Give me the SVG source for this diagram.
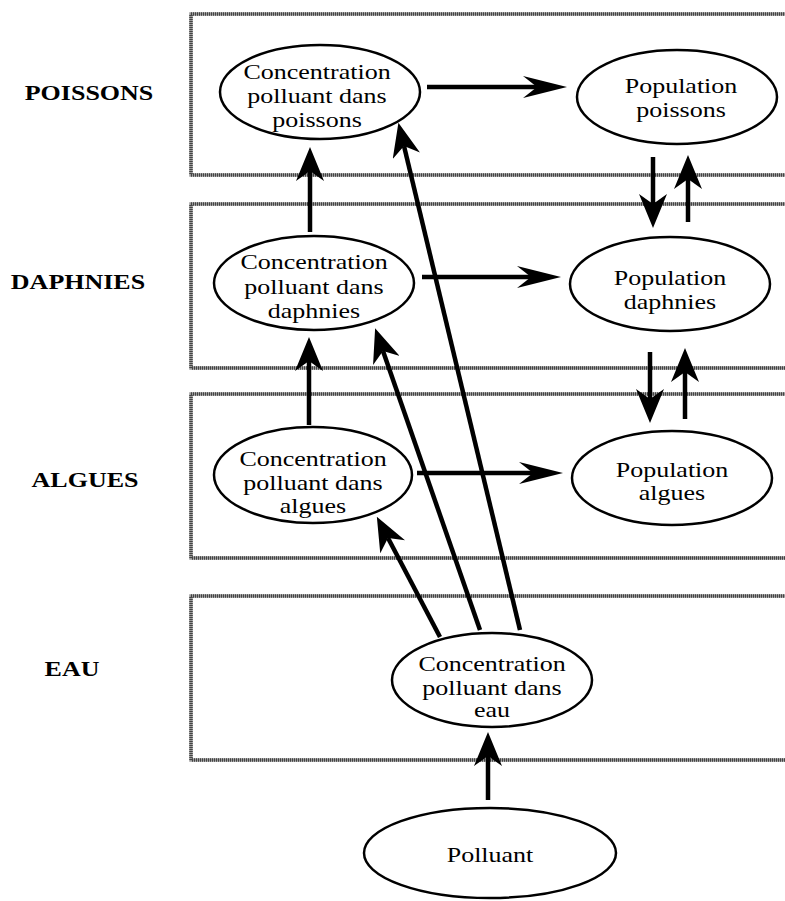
<svg xmlns="http://www.w3.org/2000/svg" width="785" height="901" viewBox="0 0 785 901">
  <style>
    .zone-bg { fill: #ffffff; stroke: #9a9a9a; stroke-width: 3.5; }
    .zone-dots { fill: none; stroke: #444444; stroke-width: 3.5; stroke-dasharray: 1 1; }
    .node { fill: #ffffff; stroke: #000000; stroke-width: 2.5; }
    .t { font-family: "Liberation Serif", "Times New Roman", serif; font-size: 20px; fill: #000000; text-anchor: middle; }
    .lbl { font-family: "Liberation Serif", "Times New Roman", serif; font-size: 20px; font-weight: bold; fill: #000000; text-anchor: middle; }
    .link { stroke: #000000; stroke-width: 4.5; fill: none; }
    .link-h { stroke: #000000; stroke-width: 4.5; fill: none; }
  </style>
  <defs>
    <marker id="ah" viewBox="0 -14 34 28" markerWidth="34" markerHeight="28" markerUnits="userSpaceOnUse" refX="10" refY="0" orient="auto">
      <path d="M0,-14 L34,0 L0,14 L10,0 Z" fill="#000000"/>
    </marker>
    <marker id="ahLong" viewBox="0 -11 44 22" markerWidth="44" markerHeight="22" markerUnits="userSpaceOnUse" refX="14" refY="0" orient="auto">
      <path d="M0,-11 L44,0 L0,11 L14,0 Z" fill="#000000"/>
    </marker>
  </defs>

  <rect width="785" height="901" fill="#ffffff"/>

  <!-- compartments -->
  <g id="zones">
    <rect class="zone-bg" x="191" y="14" width="620" height="161"/>
    <rect class="zone-dots" x="191" y="14" width="620" height="161"/>
    <rect class="zone-bg" x="191" y="204" width="620" height="164"/>
    <rect class="zone-dots" x="191" y="204" width="620" height="164"/>
    <rect class="zone-bg" x="191" y="394" width="620" height="164"/>
    <rect class="zone-dots" x="191" y="394" width="620" height="164"/>
    <rect class="zone-bg" x="191" y="596" width="620" height="164"/>
    <rect class="zone-dots" x="191" y="596" width="620" height="164"/>
  </g>

  <!-- compartment labels -->
  <g id="labels">
    <text class="lbl" transform="translate(89,100) scale(1.3,1)">POISSONS</text>
    <text class="lbl" transform="translate(78,289) scale(1.3,1)">DAPHNIES</text>
    <text class="lbl" transform="translate(85,487) scale(1.3,1)">ALGUES</text>
    <text class="lbl" transform="translate(72,676) scale(1.3,1)">EAU</text>
  </g>

  <!-- connectors -->
  <g id="connectors">
    <line class="link-h" x1="427" y1="87" x2="537" y2="87" marker-end="url(#ahLong)"/>
    <line class="link-h" x1="422" y1="277" x2="531" y2="277" marker-end="url(#ahLong)"/>
    <line class="link-h" x1="417" y1="473" x2="533" y2="473" marker-end="url(#ahLong)"/>

    <line class="link" x1="310" y1="232" x2="310" y2="171" marker-end="url(#ah)"/>
    <line class="link" x1="309" y1="425" x2="309" y2="361" marker-end="url(#ah)"/>
    <line class="link" x1="488" y1="800" x2="488" y2="756" marker-end="url(#ah)"/>

    <line class="link" x1="440" y1="637" x2="388" y2="538" marker-end="url(#ah)"/>
    <line class="link" x1="480" y1="630" x2="383" y2="351" marker-end="url(#ah)"/>
    <line class="link" x1="520" y1="630" x2="404" y2="146" marker-end="url(#ah)"/>

    <line class="link" x1="653" y1="157" x2="653" y2="204" marker-end="url(#ah)"/>
    <line class="link" x1="688" y1="222" x2="688" y2="179" marker-end="url(#ah)"/>
    <line class="link" x1="650" y1="352" x2="650" y2="399" marker-end="url(#ah)"/>
    <line class="link" x1="685" y1="419" x2="685" y2="372" marker-end="url(#ah)"/>
  </g>

  <!-- nodes -->
  <g id="conc-poissons">
    <ellipse class="node" cx="320" cy="92" rx="100" ry="47"/>
    <text class="t" transform="translate(317,79) scale(1.3,1)">Concentration</text>
    <text class="t" transform="translate(317,103) scale(1.3,1)">polluant dans</text>
    <text class="t" transform="translate(317,127) scale(1.3,1)">poissons</text>
  </g>
  <g id="pop-poissons">
    <ellipse class="node" cx="677" cy="97" rx="100" ry="47"/>
    <text class="t" transform="translate(681,93) scale(1.3,1)">Population</text>
    <text class="t" transform="translate(681,117) scale(1.3,1)">poissons</text>
  </g>
  <g id="conc-daphnies">
    <ellipse class="node" cx="314" cy="283" rx="100" ry="47"/>
    <text class="t" transform="translate(314,269) scale(1.3,1)">Concentration</text>
    <text class="t" transform="translate(314,294) scale(1.3,1)">polluant dans</text>
    <text class="t" transform="translate(314,318) scale(1.3,1)">daphnies</text>
  </g>
  <g id="pop-daphnies">
    <ellipse class="node" cx="670" cy="284" rx="100" ry="47"/>
    <text class="t" transform="translate(670,285) scale(1.3,1)">Population</text>
    <text class="t" transform="translate(670,309) scale(1.3,1)">daphnies</text>
  </g>
  <g id="conc-algues">
    <ellipse class="node" cx="313" cy="475" rx="99" ry="48"/>
    <text class="t" transform="translate(313,466) scale(1.3,1)">Concentration</text>
    <text class="t" transform="translate(313,490) scale(1.3,1)">polluant dans</text>
    <text class="t" transform="translate(313,513) scale(1.3,1)">algues</text>
  </g>
  <g id="pop-algues">
    <ellipse class="node" cx="672" cy="478" rx="100" ry="47"/>
    <text class="t" transform="translate(672,477) scale(1.3,1)">Population</text>
    <text class="t" transform="translate(672,500) scale(1.3,1)">algues</text>
  </g>
  <g id="conc-eau">
    <ellipse class="node" cx="492" cy="680" rx="100" ry="47"/>
    <text class="t" transform="translate(492,671) scale(1.3,1)">Concentration</text>
    <text class="t" transform="translate(492,695) scale(1.3,1)">polluant dans</text>
    <text class="t" transform="translate(492,717) scale(1.3,1)">eau</text>
  </g>
  <g id="polluant">
    <ellipse class="node" cx="490" cy="853" rx="126" ry="45"/>
    <text class="t" transform="translate(490,862) scale(1.3,1)">Polluant</text>
  </g>
</svg>
